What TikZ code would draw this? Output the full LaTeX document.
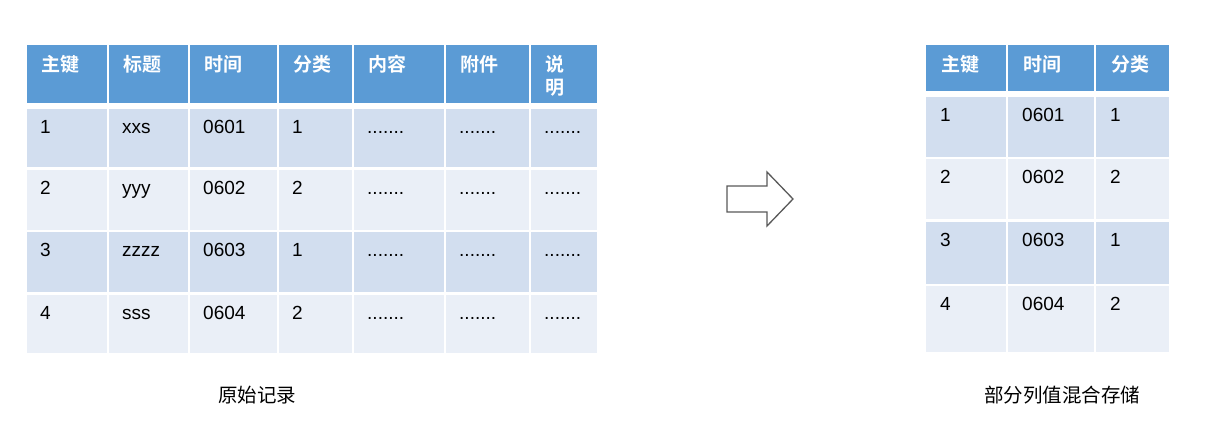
\documentclass[tikz,border=0pt]{standalone}
\usepackage{fontspec}
\setmainfont{Liberation Sans}
\newfontfamily\cjk{Noto Sans CJK SC}[BoldFont={Noto Sans CJK SC Bold}]
\usepackage{tikz}
\definecolor{hblue}{HTML}{5B9BD5}
\definecolor{rowa}{HTML}{D2DEEF}
\definecolor{rowb}{HTML}{EAEFF7}
\definecolor{arrowgray}{HTML}{595959}
\newcommand{\dotrow}{.......}
\tikzstyle{cell} = [anchor=north west, inner sep=0pt, minimum width=\w*1pt, minimum height=\h*1pt]
\tikzstyle{htext} = [anchor=north west, inner sep=0pt, align=left, text=white, font=\cjk\bfseries\fontsize{19}{23}\selectfont]
\tikzstyle{dtext} = [anchor=base west, inner sep=0pt, font=\fontsize{19}{23}\selectfont]
\tikzstyle{caption} = [inner sep=0pt, font=\cjk\fontsize{19.5}{23}\selectfont]

\begin{document}
\begin{tikzpicture}[x=1pt, y=-1pt]
		\useasboundingbox (0,0) rectangle (1217,443);
		% original record
		\foreach \x/\w/\t [count=\i] in {27/80/主键, 109/79/标题, 190/87/时间, 279/73/分类, 354/90/内容, 446/83/附件, 531/66/{说\\明}} {
			\def\h{58}
			\node [cell, fill=hblue] (lh\i) at (\x,45) {};
			\node [htext] (lht\i) at ([xshift=14pt, yshift=-10pt]lh\i.north west) {\t};
		}
		\foreach \y/\h/\c/\ka/\kb/\kc/\kd [count=\r] in {109/58/rowa/1/xxs/0601/1, 170/60/rowb/2/yyy/0602/2, 232/60/rowa/3/zzzz/0603/1, 295/58/rowb/4/sss/0604/2} {
			\foreach \x/\w/\v [count=\i] in {27/80/\ka, 109/79/\kb, 190/87/\kc, 279/73/\kd, 354/90/\dotrow, 446/83/\dotrow, 531/66/\dotrow} {
				\node [cell, fill=\c] (l\r\i) at (\x,\y) {};
				\node [dtext] (lt\r\i) at ([xshift=13pt, yshift=-24.5pt]l\r\i.north west) {\v};
			}
		}
		\node [caption] (lcap) at (257,395) {原始记录};

		% block arrow
		\draw [arrowgray, line width=1.3pt, line join=miter, fill=white] (727,186) -- (767,186) -- (767,172) -- (793,199) -- (767,226) -- (767,212) -- (727,212) -- cycle;

		% partial columns
		\foreach \x/\w/\t [count=\i] in {926/80/主键, 1008/86/时间, 1096/73/分类} {
			\def\h{46}
			\node [cell, fill=hblue] (rh\i) at (\x,45) {};
			\node [htext] (rht\i) at ([xshift=15pt, yshift=-10pt]rh\i.north west) {\t};
		}
		\foreach \y/\h/\c/\ka/\kc/\kd [count=\r] in {97/60/rowa/1/0601/1, 159/60/rowb/2/0602/2, 222/62/rowa/3/0603/1, 286/66/rowb/4/0604/2} {
			\foreach \x/\w/\v [count=\i] in {926/80/\ka, 1008/86/\kc, 1096/73/\kd} {
				\node [cell, fill=\c] (r\r\i) at (\x,\y) {};
				\node [dtext] (rt\r\i) at ([xshift=14pt, yshift=-25pt]r\r\i.north west) {\v};
			}
		}
		\node [caption] (rcap) at (1062,395) {部分列值混合存储};
	\end{tikzpicture}
\end{document}
